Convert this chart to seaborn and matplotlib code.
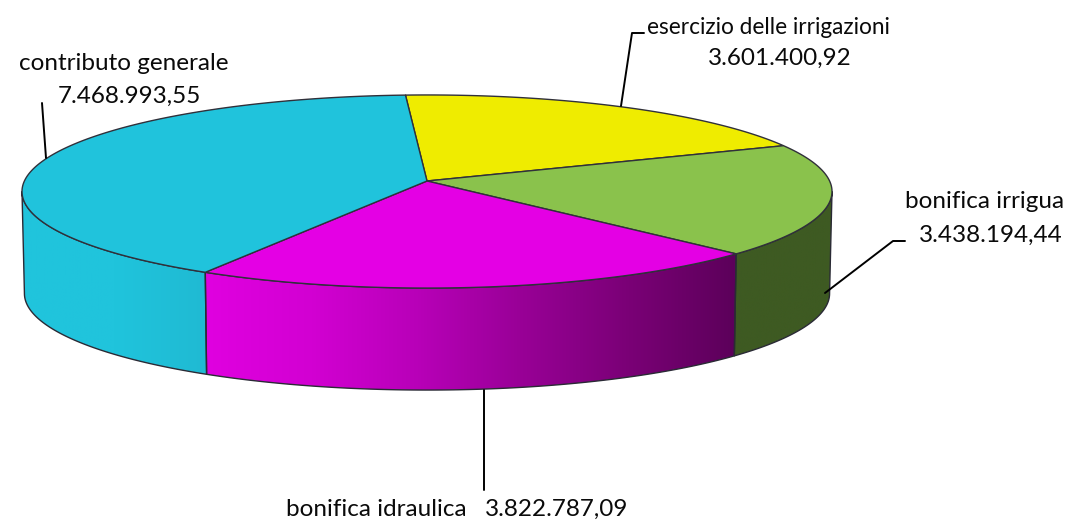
import numpy as np
import seaborn as sns
import matplotlib
matplotlib.use("Agg")
import matplotlib.pyplot as plt
from matplotlib.patches import Polygon

names = ["esercizio delle irrigazioni", "bonifica irrigua", "bonifica idraulica", "contributo generale"]
values = [3601400.92, 3438194.44, 3822787.09, 7468993.55]

top_colors = ["#efec00", "#8ac24c", "#e400e4", "#20c3dc"]

sns.set_style("white")
plt.rcParams["font.family"] = ["Lato", "DejaVu Sans"]

# pie geometry in pixels, the top face is a circle seen in perspective
cx, cy = 427, 181
rx, ry = 402.6, 95.4
k = 0.1088
depth = 102
start = -3.4


def top_point(deg):
	t = np.radians(deg)
	u, v = np.sin(t), np.cos(t)
	w = 1 + k * v
	return cx + rx * u / w, cy - ry * v / w


def arc(a, b):
	n = max(int(abs(b - a)) * 2, 2)
	x, y = top_point(np.linspace(a, b, n))
	return np.column_stack([x, y])


def lower(pts):
	out = pts.copy()
	out[:, 0] = cx + 0.994 * (out[:, 0] - cx)
	out[:, 1] = out[:, 1] + depth
	return out


def it_number(v):
	return f"{v:,.2f}".replace(",", "#").replace(".", ",").replace("#", ".")


fig, ax = plt.subplots(figsize=(10.71, 5.24), dpi=100)
fig.subplots_adjust(0, 0, 1, 1)
ax.axis("off")

shares = np.array(values) / sum(values) * 360
edges = start + np.concatenate([[0], np.cumsum(shares)])

# side of the cake, only the part facing us shows
vis_a, vis_b = 96.2, 263.8
side_maps = [
	None,
	sns.blend_palette(["#3e5a22", "#3e5a22"], n_colors=8, as_cmap=True),
	sns.blend_palette(["#e000e0", "#d200d2", "#b800b8", "#980096", "#7a0076", "#5c005a"], n_colors=128, as_cmap=True),
	sns.blend_palette(["#20c4dd", "#20c4dc", "#1fbad3"], n_colors=64, as_cmap=True),
]
for i in range(4):
	a, b = max(edges[i], vis_a), min(edges[i + 1], vis_b)
	if a >= b:
		continue
	upper = arc(a, b)
	bottom = lower(upper)
	poly = np.vstack([upper, bottom[::-1]])
	x0, x1 = poly[:, 0].min(), poly[:, 0].max()
	y0, y1 = poly[:, 1].min(), poly[:, 1].max()
	im = ax.imshow(np.linspace(0, 1, 256)[None, :], extent=[x0, x1, y1, y0],
		cmap=side_maps[i], aspect="auto", zorder=2, vmin=0, vmax=1)
	patch = Polygon(poly, closed=True, facecolor="none", edgecolor="#2a2a35", lw=1.0, zorder=3)
	ax.add_patch(patch)
	im.set_clip_path(patch)

# top face
for i in range(4):
	pts = np.vstack([[cx, cy], arc(edges[i], edges[i + 1])])
	ax.add_patch(Polygon(pts, closed=True, facecolor=top_colors[i], edgecolor="#30303a", lw=1.0, zorder=4))

ax.set_xlim(0, 1071)
ax.set_ylim(524, 0)

# leader lines
ax.plot([42, 46], [103, 158], color="black", lw=1.4, zorder=5)
ax.plot([621, 632, 644], [106, 33, 33], color="black", lw=1.4, zorder=5)
ax.plot([825, 893, 905], [293, 241, 241], color="black", lw=1.4, zorder=5)
ax.plot([484, 484], [390, 490], color="black", lw=1.4, zorder=5)

# labels
fs = 17.5
tc = "#0a0a0a"
ax.text(124, 63, names[3], fontsize=fs, color=tc, ha="center", va="center")
ax.text(129, 96, it_number(values[3]), fontsize=fs, color=tc, ha="center", va="center")
ax.text(768, 27, names[0], fontsize=16.3, color=tc, ha="center", va="center")
ax.text(780, 58, it_number(values[0]), fontsize=fs, color=tc, ha="center", va="center")
ax.text(985, 202, names[1], fontsize=fs, color=tc, ha="center", va="center")
ax.text(991, 235, it_number(values[1]), fontsize=fs, color=tc, ha="center", va="center")
ax.text(376, 509, names[2], fontsize=fs, color=tc, ha="center", va="center")
ax.text(557, 509, it_number(values[2]), fontsize=fs, color=tc, ha="center", va="center")

fig.savefig("out.png", dpi=100)
